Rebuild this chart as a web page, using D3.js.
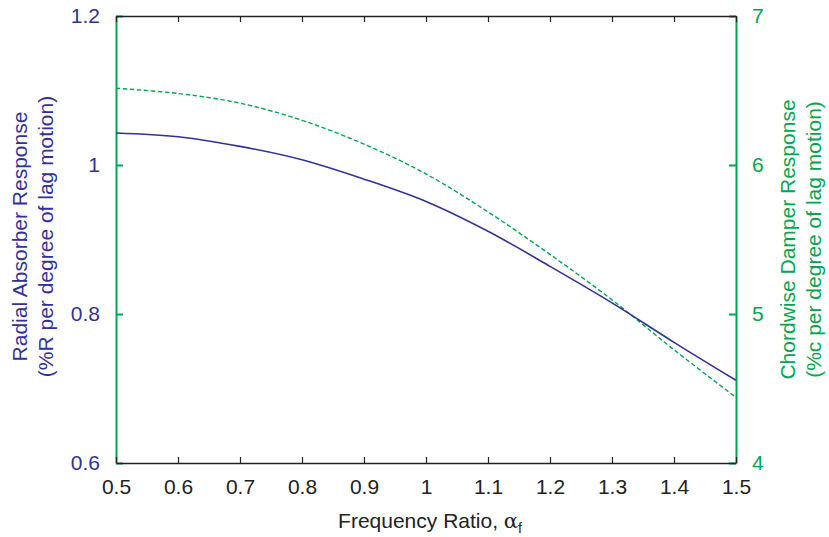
<!DOCTYPE html>
<html>
<head>
    <meta charset="utf-8">
    <script src="https://d3js.org/d3.v7.min.js"></script>
    <style>
        body { margin: 0; background: #fff; }
        text { font-family: "Liberation Sans", Arial, sans-serif; }
    </style>
</head>
<body>
<div id="chart"></div>
<script>
    // frequency ratio samples
    var ratio = [0.5, 0.6, 0.7, 0.8, 0.9, 1.0, 1.1, 1.2, 1.3, 1.4, 1.5];
    // radial absorber response (%R per degree of lag motion)
    var radial = [1.043, 1.038, 1.025, 1.007, 0.981, 0.951, 0.911, 0.864, 0.815, 0.762, 0.711];
    // chordwise damper response (%c per degree of lag motion)
    var chordwise = [6.515, 6.48, 6.415, 6.30, 6.14, 5.94, 5.685, 5.40, 5.095, 4.76, 4.44];

    var xTicks = [0.5, 0.6, 0.7, 0.8, 0.9, 1, 1.1, 1.2, 1.3, 1.4, 1.5];
    var leftTicks = [0.6, 0.8, 1, 1.2];
    var rightTicks = [4, 5, 6, 7];

    var blue = "#323296", green = "#00a651";

    var margin = { top: 16, right: 93, bottom: 74, left: 116 },
        width = 829 - margin.left - margin.right,
        height = 537 - margin.top - margin.bottom;

    var svg = d3.select("#chart").append("svg")
        .attr("width", 829)
        .attr("height", 537)
        .append("g")
        .attr("transform", "translate(" + margin.left + "," + margin.top + ")");

    var x = d3.scaleLinear().domain([0.5, 1.5]).range([0, width]);
    var yL = d3.scaleLinear().domain([0.6, 1.2]).range([height, 0]);
    var yR = d3.scaleLinear().domain([4, 7]).range([height, 0]);

    var fmt = function (d) { return d3.format("~g")(d); };

    // left axis (green line, blue labels)
    var gl = svg.append("g")
        .call(d3.axisLeft(yL).tickValues(leftTicks).tickFormat(fmt).tickSizeInner(-7).tickSizeOuter(0).tickPadding(16));
    gl.select(".domain").attr("stroke", green).attr("stroke-width", 2);
    gl.selectAll(".tick line").attr("stroke", green).attr("stroke-width", 2);
    gl.selectAll(".tick text").attr("fill", blue).style("font-size", "21px");

    // right axis
    var gr = svg.append("g")
        .attr("transform", "translate(" + width + ",0)")
        .call(d3.axisRight(yR).tickValues(rightTicks).tickFormat(fmt).tickSizeInner(-7).tickSizeOuter(0).tickPadding(16));
    gr.select(".domain").attr("stroke", green).attr("stroke-width", 2);
    gr.selectAll(".tick line").attr("stroke", green).attr("stroke-width", 2);
    gr.selectAll(".tick text").attr("fill", green).style("font-size", "21px");

    // top axis, ticks only
    var gt = svg.append("g")
        .call(d3.axisTop(x).tickValues(xTicks).tickSizeInner(-6).tickSizeOuter(0).tickFormat(""));
    gt.select(".domain").attr("stroke", "#222").attr("stroke-width", 1.5);
    gt.selectAll(".tick line").attr("stroke", "#222").attr("stroke-width", 1.2);

    // bottom axis
    var gb = svg.append("g")
        .attr("transform", "translate(0," + height + ")")
        .call(d3.axisBottom(x).tickValues(xTicks).tickFormat(fmt).tickSizeInner(-6).tickSizeOuter(0).tickPadding(16));
    gb.select(".domain").attr("stroke", "#222").attr("stroke-width", 1.5);
    gb.selectAll(".tick line").attr("stroke", "#222").attr("stroke-width", 1.2);
    gb.selectAll(".tick text").attr("fill", "#222").style("font-size", "21px");

    // curves
    svg.append("clipPath").attr("id", "clip")
        .append("rect").attr("width", width).attr("height", height);

    svg.append("path")
        .datum(ratio.map(function (r, i) { return [r, chordwise[i]]; }))
        .attr("clip-path", "url(#clip)")
        .attr("fill", "none")
        .attr("stroke", green)
        .attr("stroke-width", 1.4)
        .attr("stroke-dasharray", "4.5,2.5")
        .attr("d", d3.line()
            .curve(d3.curveCatmullRom)
            .x(function (d) { return x(d[0]); })
            .y(function (d) { return yR(d[1]); }));

    svg.append("path")
        .datum(ratio.map(function (r, i) { return [r, radial[i]]; }))
        .attr("clip-path", "url(#clip)")
        .attr("fill", "none")
        .attr("stroke", blue)
        .attr("stroke-width", 1.6)
        .attr("d", d3.line()
            .curve(d3.curveCatmullRom)
            .x(function (d) { return x(d[0]); })
            .y(function (d) { return yL(d[1]); }));

    // axis titles
    var xt = svg.append("text")
        .attr("x", width / 2 + 4)
        .attr("y", height + 65)
        .attr("text-anchor", "middle")
        .attr("fill", "#222")
        .style("font-size", "21px")
        .text("Frequency Ratio, ");
    xt.append("tspan").style("font-family", "'DejaVu Serif', serif").style("font-size", "21px").text("α");
    xt.append("tspan").attr("dy", 5).style("font-size", "14px").text("f");

    var lt = svg.append("text")
        .attr("transform", "translate(" + (-89) + "," + (height / 2 - 3) + ") rotate(-90)")
        .attr("text-anchor", "middle")
        .attr("fill", blue)
        .style("font-size", "21px");
    lt.append("tspan").attr("x", 0).attr("dy", 0).text("Radial Absorber Response");
    lt.append("tspan").attr("x", 0).attr("dy", 26).text("(%R per degree of lag motion)");

    var rt = svg.append("text")
        .attr("transform", "translate(" + (width + 59) + "," + (height / 2) + ") rotate(-90)")
        .attr("text-anchor", "middle")
        .attr("fill", green)
        .style("font-size", "21px");
    rt.append("tspan").attr("x", 0).attr("dy", 0).text("Chordwise Damper Response");
    rt.append("tspan").attr("x", 0).attr("dy", 26).text("(%c per degree of lag motion)");
</script>
</body>
</html>
